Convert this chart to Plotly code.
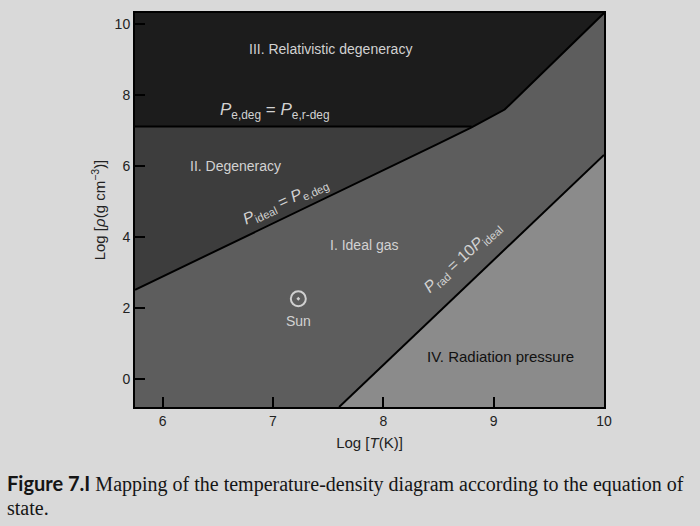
import plotly.graph_objects as go

# ---- data ----
x_range = [5.75, 10.0]          # Log T(K)
y_range = [-0.8, 10.3]          # Log rho (g cm^-3)

# boundary P_ideal = P_e,deg (non-relativistic then relativistic part)
deg_T = [5.75, 6.5, 7.5, 8.5, 8.8, 9.1, 10.0]
deg_rho = [2.5, 3.62, 5.12, 6.62, 7.08, 7.58, 10.3]

# boundary P_e,deg = P_e,r-deg (horizontal)
rel_T = [5.75, 8.8]
rel_rho = [7.1, 7.1]

# boundary P_rad = 10 P_ideal
rad_T = [7.6, 10.0]
rad_rho = [-0.8, 6.3]

sun_T = [7.23]
sun_rho = [2.25]

c_III = "#1c1c1c"
c_II = "#3d3d3d"
c_I = "#5d5d5d"
c_IV = "#8b8b8b"
bg = "#d9d9d9"

x0, x1 = x_range
y0, y1 = y_range

fig = go.Figure()

def poly(xs, ys, color):
    fig.add_trace(go.Scatter(x=xs + [xs[0]], y=ys + [ys[0]], mode="lines",
                             fill="toself", fillcolor=color,
                             line=dict(width=0, color=color),
                             hoverinfo="skip", showlegend=False))

# Region III (relativistic degeneracy) – whole top
poly([x0, x1, x1, x0], [rel_rho[0], rel_rho[0], y1, y1], c_III)
# Region II (degeneracy)
ii_x = [x0] + [t for t in deg_T if t <= rel_T[1]] + [x0]
ii_y = [deg_rho[0]] + [r for t, r in zip(deg_T, deg_rho) if t <= rel_T[1]] + [rel_rho[0]]
poly(ii_x, ii_y, c_II)
# Region I (ideal gas)
i_x = [x0] + deg_T + [rad_T[1], rad_T[0]]
i_y = [y0] + deg_rho + [rad_rho[1], rad_rho[0]]
poly(i_x, i_y, c_I)
# Region IV (radiation pressure)
poly([rad_T[0], rad_T[1], x1], [rad_rho[0], rad_rho[1], y0], c_IV)

for xs, ys in [(deg_T, deg_rho), (rel_T, rel_rho), (rad_T, rad_rho)]:
    fig.add_trace(go.Scatter(x=xs, y=ys, mode="lines",
                             line=dict(color="black", width=2),
                             hoverinfo="skip", showlegend=False))

fig.add_trace(go.Scatter(x=sun_T, y=sun_rho, mode="markers",
                         marker=dict(symbol="circle-open-dot", size=15,
                                     color="#d0d0d0", line=dict(width=2, color="#d0d0d0")),
                         hoverinfo="skip", showlegend=False))

lt = "#d2d2d2"
F = "Liberation Sans, Arial, sans-serif"
ann = [
    dict(x=7.52, y=9.29, text="III. Relativistic degeneracy", color=lt, size=14, angle=0),
    dict(x=7.02, y=7.55, text="<i>P</i><sub>e,deg</sub> = <i>P</i><sub>e,r-deg</sub>", color=lt, size=17, angle=0),
    dict(x=6.66, y=5.98, text="II. Degeneracy", color=lt, size=14, angle=0),
    dict(x=7.11, y=4.98, text="<i>P</i><sub>ideal</sub> = <i>P</i><sub>e,deg</sub>", color=lt, size=16, angle=-25),
    dict(x=7.83, y=3.77, text="I. Ideal gas", color=lt, size=14, angle=0),
    dict(x=7.23, y=1.61, text="Sun", color=lt, size=14, angle=0),
    dict(x=8.72, y=3.42, text="<i>P</i><sub>rad</sub> = 10<i>P</i><sub>ideal</sub>", color=lt, size=16, angle=-42),
    dict(x=9.06, y=0.63, text="IV. Radiation pressure", color="#111111", size=15, angle=0),
]
for a in ann:
    fig.add_annotation(x=a["x"], y=a["y"], xref="x", yref="y", text=a["text"],
                       showarrow=False, textangle=a["angle"],
                       font=dict(family=F, size=a["size"], color=a["color"]))

# caption
L, T, W, H = 135, 11, 469, 396
def px(xp): return (xp - L) / W
def py(yp): return (T + H - yp) / H
fig.add_annotation(x=px(5), y=py(484), xref="paper", yref="paper", xanchor="left", yanchor="middle",
                   showarrow=False,
                   text="<b>Figure 7.I</b> <span style='font-family:Liberation Serif'>Mapping of the temperature-density diagram according to the equation of</span>",
                   font=dict(family="Lato, Liberation Sans, sans-serif", size=20, color="#151515"))
fig.add_annotation(x=px(5), y=py(509), xref="paper", yref="paper", xanchor="left", yanchor="middle",
                   showarrow=False, text="state.",
                   font=dict(family="Liberation Serif, serif", size=20, color="#151515"))

axis_common = dict(showgrid=False, zeroline=False, showline=True, linecolor="black",
                   linewidth=2, mirror=True, ticks="inside", ticklen=10, tickwidth=1.5,
                   tickcolor="black", tickfont=dict(family=F, size=14, color="#222"))

fig.update_xaxes(range=x_range, tickvals=[6, 7, 8, 9, 10], ticktext=["6", "7", "8", "9", "10"],
                 title=dict(text="Log [<i>T</i>(K)]", font=dict(family=F, size=15, color="#222"), standoff=10),
                 **axis_common)
fig.update_yaxes(range=y_range, tickvals=[0, 2, 4, 6, 8, 10], ticktext=["0", "2", "4", "6", "8", "10"],
                 title=dict(text="Log [<i>ρ</i>(g cm<sup>−3</sup>)]", font=dict(family=F, size=15, color="#222"), standoff=5),
                 **axis_common)

fig.update_layout(width=700, height=526, margin=dict(l=L, r=700 - L - W, t=T, b=526 - T - H),
                  paper_bgcolor=bg, plot_bgcolor=c_III, showlegend=False)

fig.write_html("out.html")
